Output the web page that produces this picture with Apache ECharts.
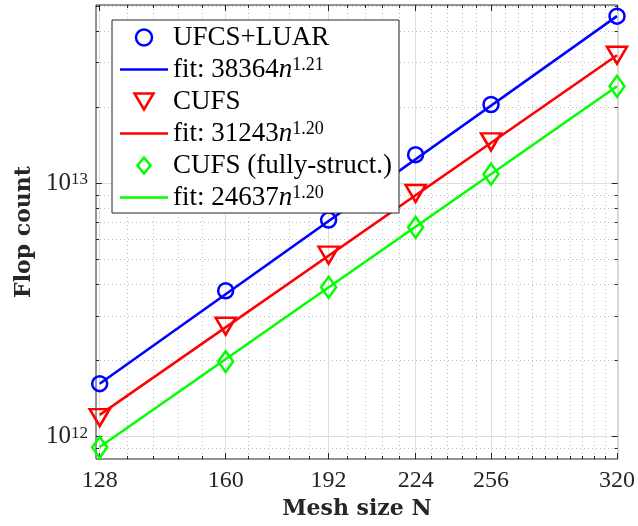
<!DOCTYPE html>
<html>
<head>
<meta charset="utf-8">
<script src="https://cdn.jsdelivr.net/npm/echarts@6/dist/echarts.min.js"></script>
<style>
  html, body { margin: 0; padding: 0; background: #fff; }
  #chart01 { width: 638px; height: 526px; }
</style>
</head>
<body>
<div id="chart01"></div>
<script>
// mesh sizes N
var meshN = [128, 160, 192, 224, 256, 320];
// flop counts
var ufcsLuar = [1.62e12, 3.77e12, 7.17e12, 1.30e13, 2.05e13, 4.58e13];
var cufs = [1.19e12, 2.73e12, 5.21e12, 9.13e12, 1.46e13, 3.21e13];
var cufsFull = [9.08e11, 1.98e12, 3.89e12, 6.71e12, 1.088e13, 2.42e13];
// fit lines (end points)
var fitN = [128, 320];
var fitUfcs = [1.62e12, 4.58e13];
var fitCufs = [1.22e12, 3.21e13];
var fitFull = [9.1e11, 2.42e13];

// ticks
var xTicks = [128, 160, 192, 224, 256, 320];
var xMinorTicks = [134.4, 140.8, 147.2, 153.6, 166.4, 172.8, 179.2, 185.6, 198.4, 204.8, 211.2, 217.6,
  230.4, 236.8, 243.2, 249.6, 262.4, 268.8, 275.2, 281.6, 288, 294.4, 300.8, 307.2, 313.6];
var yTicks = [1e12, 1e13];
var yMinorTicks = [9e11, 2e12, 3e12, 4e12, 5e12, 6e12, 7e12, 8e12, 9e12, 2e13, 3e13, 4e13, 5e13];

var names = ['UFCS+LUAR', 'fit UFCS+LUAR', 'CUFS', 'fit CUFS', 'CUFS (fully-struct.)', 'fit CUFS (fully-struct.)'];
var fitLabels = {
  'fit UFCS+LUAR': ['38364', '1.21'],
  'fit CUFS': ['31243', '1.20'],
  'fit CUFS (fully-struct.)': ['24637', '1.20']
};

var serif = 'Liberation Serif';
var xMin = 127.17, xMax = 320.39;
var yMin = 8.166e11, yMax = 5.068e13;

function pairs(xs, ys) {
  return xs.map(function (x, i) { return [x, ys[i]]; });
}

var chart01 = echarts.init(document.getElementById('chart01'), null, { renderer: 'canvas' });

// helper for the extra tick-only axes
function tickAxis(pos, vals, len, grid, dotted) {
  var isX = pos == 'bottom' || pos == 'top';
  return {
    type: 'log', position: pos, min: isX ? xMin : yMin, max: isX ? xMax : yMax,
    axisLine: { show: false, onZero: false },
    axisLabel: { show: false },
    axisTick: { show: true, inside: true, length: len, customValues: vals, lineStyle: { color: '#262626', width: 1 } },
    splitLine: {
      show: grid,
      lineStyle: dotted ? { color: '#bfbfbf', width: 1, type: [1, 3] } : { color: '#dedede', width: 1 }
    }
  };
}

var lineIcon = 'path://M0,0H48V2.5H0Z';
var triIcon = 'path://M0,0L19,0L9.5,16Z';
var diaIcon = 'path://M6.5,0L13,8L6.5,16L0,8Z';

var option = {
  animation: false,
  backgroundColor: '#fff',
  grid: {
    left: 96, right: 16, top: 5, bottom: 67,
    show: true, borderColor: '#262626', borderWidth: 1, backgroundColor: 'transparent'
  },
  //图例
  legend: {
    orient: 'vertical',
    left: 112, top: 20,
    padding: [4, 7, 2, 8],
    itemGap: 5,
    itemWidth: 48,
    itemHeight: 16,
    backgroundColor: '#fff',
    borderColor: '#262626',
    borderWidth: 1,
    data: [
      { name: names[0], icon: 'circle', itemStyle: { color: 'rgba(0,0,0,0)', borderColor: '#0000ff', borderWidth: 2.5 } },
      { name: names[1], icon: lineIcon, itemStyle: { color: '#0000ff', borderWidth: 0 } },
      { name: names[2], icon: triIcon, itemStyle: { color: 'rgba(0,0,0,0)', borderColor: '#ff0000', borderWidth: 2.5 } },
      { name: names[3], icon: lineIcon, itemStyle: { color: '#ff0000', borderWidth: 0 } },
      { name: names[4], icon: diaIcon, itemStyle: { color: 'rgba(0,0,0,0)', borderColor: '#00ff00', borderWidth: 2.5 } },
      { name: names[5], icon: lineIcon, itemStyle: { color: '#00ff00', borderWidth: 0 } }
    ],
    formatter: function (name) {
      var f = fitLabels[name];
      if (f) {
        return '{t|fit: ' + f[0] + '}{i|n}{s|' + f[1] + '}';
      }
      return '{t|' + name + '}';
    },
    textStyle: {
      fontFamily: serif, fontSize: 27, color: '#000',
      rich: {
        t: { fontFamily: serif, fontSize: 27, lineHeight: 26, color: '#000' },
        i: { fontFamily: serif, fontSize: 27, lineHeight: 26, fontStyle: 'italic', color: '#000' },
        s: { fontFamily: serif, fontSize: 18, lineHeight: 3, verticalAlign: 'top', color: '#000' }
      }
    }
  },
  // x轴
  xAxis: [
    {
      type: 'log', position: 'bottom', min: xMin, max: xMax,
      name: 'Mesh size N', nameLocation: 'middle', nameGap: 29,
      nameTextStyle: { fontFamily: 'DejaVu Serif', fontWeight: 'bold', fontSize: 22, lineHeight: 22, color: '#262626' },
      axisLine: { show: false, onZero: false },
      axisTick: { show: true, inside: true, length: 6, customValues: xTicks, lineStyle: { color: '#262626' } },
      axisLabel: {
        customValues: xTicks, margin: 10,
        fontFamily: serif, fontSize: 24, lineHeight: 24, color: '#262626',
        formatter: function (v) { return String(Math.round(v)); }
      },
      splitLine: { show: true, lineStyle: { color: '#dedede', width: 1 } }
    },
    tickAxis('bottom', xMinorTicks, 3, true, true),
    tickAxis('top', xTicks, 6, false, false),
    tickAxis('top', xMinorTicks, 3, false, false)
  ],
  // y轴
  yAxis: [
    {
      type: 'log', position: 'left', min: yMin, max: yMax,
      name: 'Flop count', nameLocation: 'middle', nameGap: 56,
      nameTextStyle: { fontFamily: 'DejaVu Serif', fontWeight: 'bold', fontSize: 22, lineHeight: 22, color: '#262626' },
      axisLine: { show: false, onZero: false },
      axisTick: { show: true, inside: true, length: 6, customValues: yTicks, lineStyle: { color: '#262626' } },
      axisLabel: {
        customValues: yTicks, margin: 8,
        formatter: function (v) { return '{b|10}{s|' + Math.round(Math.log10(v)) + '}'; },
        rich: {
          b: { fontFamily: serif, fontSize: 25, lineHeight: 24, color: '#262626' },
          s: { fontFamily: serif, fontSize: 17, lineHeight: 10, verticalAlign: 'top', color: '#262626' }
        }
      },
      splitLine: { show: true, lineStyle: { color: '#dedede', width: 1 } }
    },
    tickAxis('left', yMinorTicks, 3, true, true),
    tickAxis('right', yTicks, 6, false, false),
    tickAxis('right', yMinorTicks, 3, false, false)
  ],
  // 数据
  series: [
    {
      name: names[0], type: 'scatter', data: pairs(meshN, ufcsLuar),
      symbol: 'circle', symbolSize: 15, z: 3,
      itemStyle: { color: 'rgba(0,0,0,0)', borderColor: '#0000ff', borderWidth: 2.5, opacity: 1 }
    },
    {
      name: names[1], type: 'line', data: pairs(fitN, fitUfcs),
      symbol: 'none', lineStyle: { color: '#0000ff', width: 2.5 }, itemStyle: { color: '#0000ff' }
    },
    {
      name: names[2], type: 'scatter', data: pairs(meshN, cufs),
      symbol: 'triangle', symbolRotate: 180, symbolSize: [20, 17], z: 3,
      itemStyle: { color: 'rgba(0,0,0,0)', borderColor: '#ff0000', borderWidth: 2.5, opacity: 1 }
    },
    {
      name: names[3], type: 'line', data: pairs(fitN, fitCufs),
      symbol: 'none', lineStyle: { color: '#ff0000', width: 2.5 }, itemStyle: { color: '#ff0000' }
    },
    {
      name: names[4], type: 'scatter', data: pairs(meshN, cufsFull),
      symbol: 'diamond', symbolSize: [15, 21], z: 3,
      itemStyle: { color: 'rgba(0,0,0,0)', borderColor: '#00ff00', borderWidth: 2.5, opacity: 1 }
    },
    {
      name: names[5], type: 'line', data: pairs(fitN, fitFull),
      symbol: 'none', lineStyle: { color: '#00ff00', width: 2.5 }, itemStyle: { color: '#00ff00' }
    }
  ]
};
chart01.setOption(option);
</script>
</body>
</html>
